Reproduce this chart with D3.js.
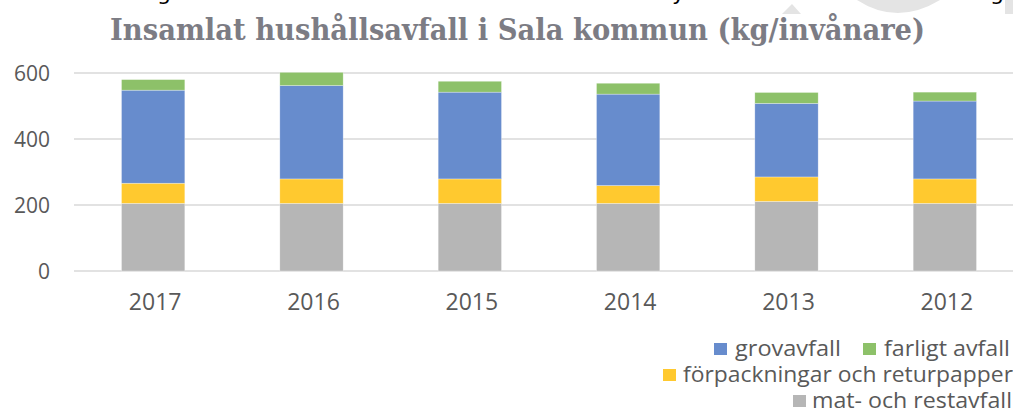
<!DOCTYPE html>
<html>
<head>
<meta charset="utf-8">
<script src="https://cdn.jsdelivr.net/npm/d3@7"></script>
<style>
  body { margin: 0; background: #fff; }
  svg { display: block; }
</style>
</head>
<body>
<script>
var width = 1013, height = 409;

// data (kg per invånare)
var years = ["2017", "2016", "2015", "2014", "2013", "2012"];
var matRest = [205, 205, 205, 205, 211, 205];
var forpackningar = [61, 74, 74, 54, 74, 74];
var grovavfall = [282, 283, 263, 277, 223, 236];
var farligt = [32, 40, 33, 33, 33, 27];
var yTicks = [0, 200, 400, 600];

var seriesNames = ["mat- och restavfall", "förpackningar och returpapper", "grovavfall", "farligt avfall"];
var seriesColors = ["#b6b6b6", "#ffc92f", "#678ccd", "#8dc169"];

var svg = d3.select("body").append("svg")
    .attr("width", width)
    .attr("height", height);

// bits of the page around the chart (watermark and cut-off text line)
svg.append("path").attr("d", "M857,0 Q897,26 940,0 Z").attr("fill", "#e4e4e4");
svg.append("path").attr("d", "M782,14 L801,14 L792,4 Z").attr("fill", "#e4e4e4");
svg.append("rect").attr("x", 1005).attr("y", 0).attr("width", 8).attr("height", 14).attr("fill", "#e4e4e4");
[["g", 157], ["y", 672], ["g", 990]].forEach(function (c) {
    svg.append("text").attr("x", c[1]).attr("y", 0)
        .style("font-family", "'DejaVu Sans', sans-serif")
        .style("font-size", "22px")
        .attr("fill", "#000")
        .text(c[0]);
});

// titel
svg.append("text")
    .attr("x", 110).attr("y", 40)
    .attr("textLength", 815)
    .attr("lengthAdjust", "spacingAndGlyphs")
    .style("font-family", "'DejaVu Serif', serif")
    .style("font-weight", "bold")
    .style("font-size", "30px")
    .attr("fill", "#7c7c84")
    .text("Insamlat hushållsavfall i Sala kommun (kg/invånare)");

var x = d3.scaleBand().domain(years).range([74, 1024]).paddingInner(0.6).paddingOuter(0.3);
var y = d3.scaleLinear().domain([0, 600]).range([271, 73]);

// gridlines
svg.append("g").selectAll("line")
    .data(yTicks)
    .enter().append("line")
    .attr("x1", 74).attr("x2", 1024)
    .attr("y1", function (d) { return y(d); })
    .attr("y2", function (d) { return y(d); })
    .attr("stroke", "#d9d9d9")
    .attr("stroke-width", 1.6);

// y tick labels
svg.append("g").selectAll("text")
    .data(yTicks)
    .enter().append("text")
    .attr("x", 50)
    .attr("y", function (d) { return y(d); })
    .attr("dy", "0.36em")
    .attr("text-anchor", "end")
    .style("font-family", "'Open Sans', sans-serif")
    .style("font-size", "21px")
    .attr("fill", "#595959")
    .text(function (d) { return d; });

// stack
var table = years.map(function (yr, i) {
    return { year: yr, s0: matRest[i], s1: forpackningar[i], s2: grovavfall[i], s3: farligt[i] };
});
var stack = d3.stack().keys(["s0", "s1", "s2", "s3"])(table);

svg.append("g").selectAll("g")
    .data(stack)
    .enter().append("g")
    .attr("fill", function (d, i) { return seriesColors[i]; })
    .selectAll("rect")
    .data(function (d) { return d; })
    .enter().append("rect")
    .attr("x", function (d) { return x(d.data.year); })
    .attr("width", x.bandwidth())
    .attr("y", function (d) { return y(d[1]); })
    .attr("height", function (d) { return y(d[0]) - y(d[1]); })
    .attr("stroke", "#fff")
    .attr("stroke-opacity", 0.5)
    .attr("stroke-width", 0.6);

// year labels
svg.append("g").selectAll("text")
    .data(years)
    .enter().append("text")
    .attr("x", function (d) { return x(d) + x.bandwidth() / 2 + 2; })
    .attr("y", 310)
    .attr("text-anchor", "middle")
    .style("font-family", "'Open Sans', sans-serif")
    .style("font-size", "23px")
    .attr("fill", "#595959")
    .text(function (d) { return d; });

// legend
var legendItems = [
    { s: 2, sq: 714, tx: 735, len: 106, y: 356 },
    { s: 3, sq: 863, tx: 884, len: 126, y: 356 },
    { s: 1, sq: 663, tx: 683, len: 330, y: 382 },
    { s: 0, sq: 793, tx: 812, len: 200, y: 408 }
];
var legend = svg.append("g");
legendItems.forEach(function (it) {
    legend.append("rect")
        .attr("x", it.sq).attr("y", it.y - 13)
        .attr("width", 13).attr("height", 12)
        .attr("fill", seriesColors[it.s]);
    legend.append("text")
        .attr("x", it.tx).attr("y", it.y)
        .attr("textLength", it.len)
        .attr("lengthAdjust", "spacingAndGlyphs")
        .style("font-family", "'Open Sans', sans-serif")
        .style("font-size", "21px")
        .attr("fill", "#595959")
        .text(seriesNames[it.s]);
});
</script>
</body>
</html>
